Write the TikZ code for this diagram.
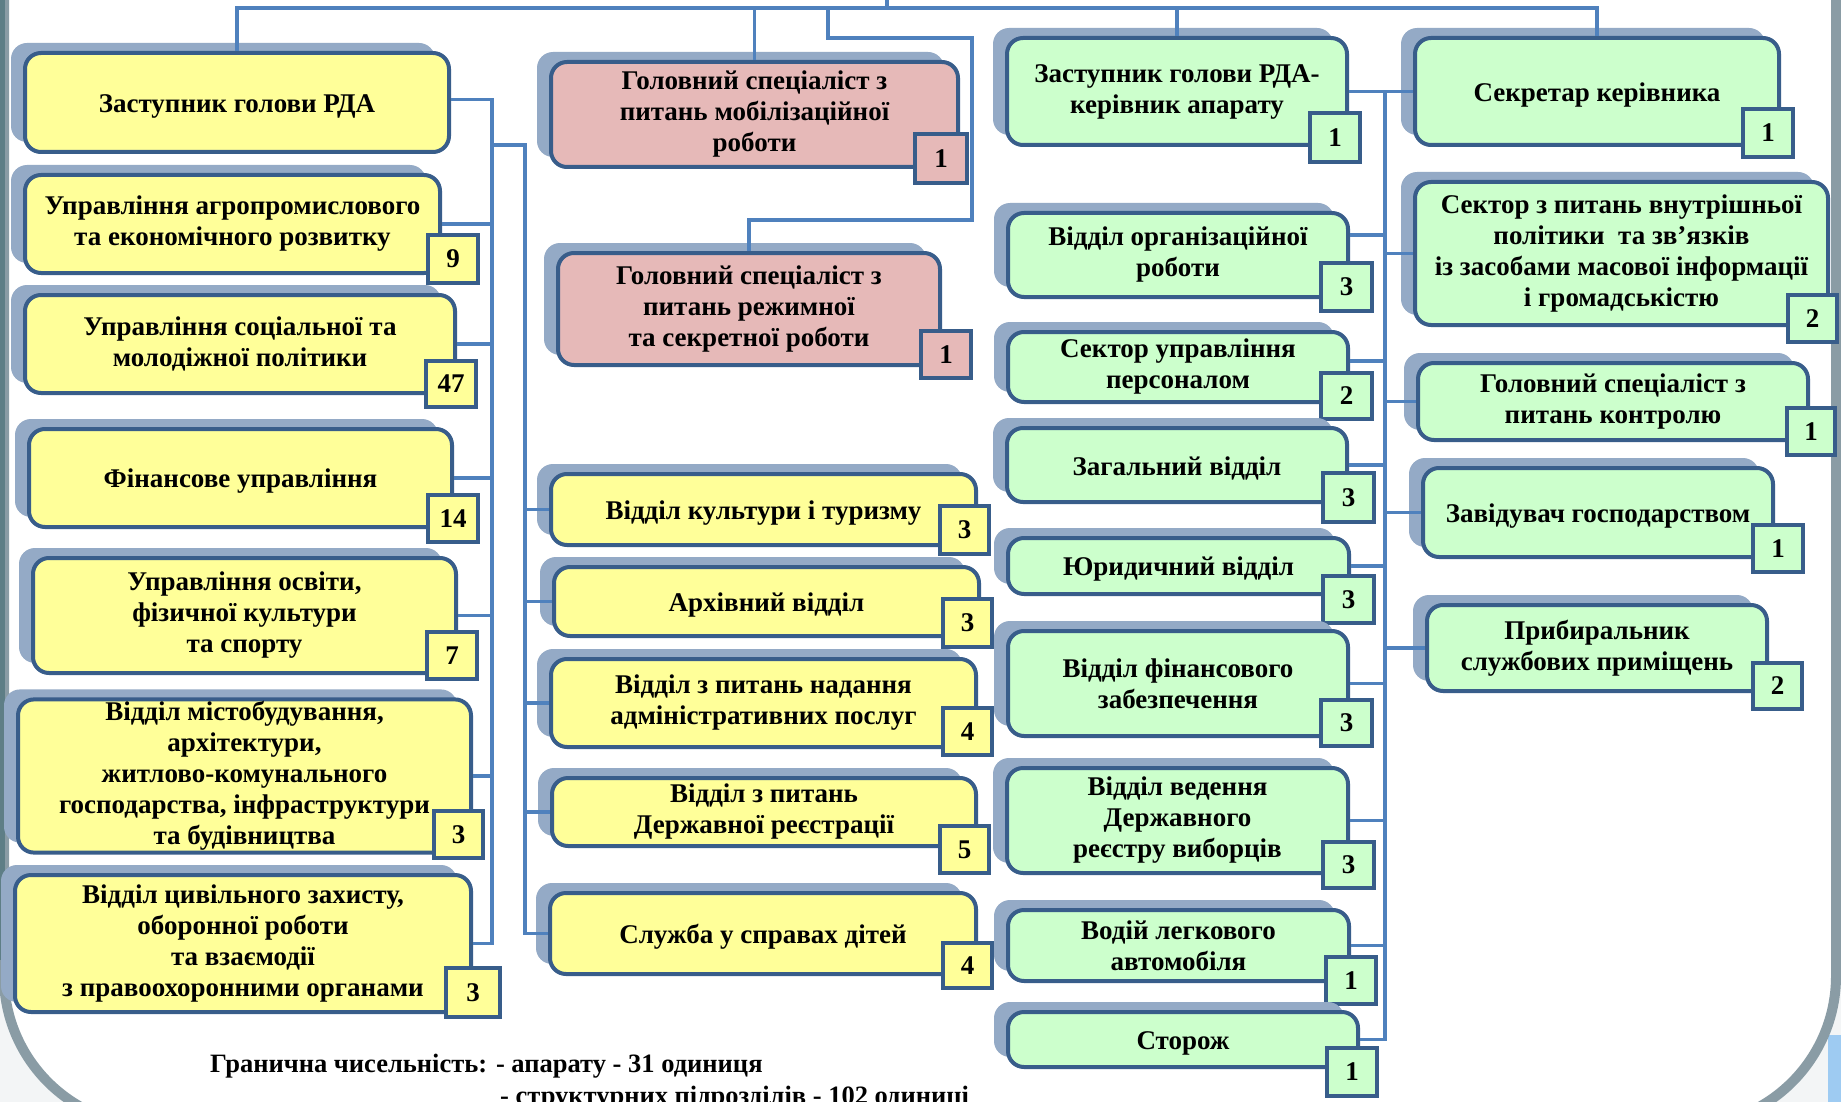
\documentclass[tikz,border=0pt]{standalone}
\usepackage{fontspec}
\setmainfont{Liberation Serif}
\usetikzlibrary{shadows}

\definecolor{yel}{HTML}{FFFF99}
\definecolor{pnk}{HTML}{E6B9B8}
\definecolor{grn}{HTML}{CCFFCC}
\definecolor{bord}{HTML}{385D8A}
\definecolor{lnc}{HTML}{4F81BD}
\definecolor{shc}{HTML}{94AAC6}
\definecolor{panelb}{HTML}{8A9CA5}
\definecolor{panelleft}{HTML}{5E7E86}
\definecolor{bgblue}{HTML}{9ECBF2}
\definecolor{bgpale}{HTML}{F3F5F6}

\tikzset{
  unit/.style={draw=bord, line width=4pt, rounded corners=16pt, align=center,
    font=\bfseries\fontsize{27}{31}\selectfont, inner sep=2pt,
    execute at begin node={\rule{0pt}{25pt}},
    general shadow={fill=shc, shadow xshift=-14pt, shadow yshift=10pt}},
  badgebox/.style={draw=bord, line width=4.5pt, inner sep=0pt,
    font=\bfseries\fontsize{27}{31}\selectfont},
  conn/.style={draw=lnc, line width=3.5pt},
  foottext/.style={font=\bfseries\fontsize{26.5}{29}\selectfont, inner sep=0pt}
}

\newcommand\orgunit[7]{\node[unit,fill=#2,minimum width={#5-#3},minimum height={#6-#4}] (#1) at ({(#3+#5)/2},{(#4+#6)/2}) {#7};}
\newcommand\orgbadge[7]{\node[badgebox,fill=#2,minimum width={#5-#3},minimum height={#6-#4}] (#1) at ({(#3+#5)/2},{(#4+#6)/2}) {#7};}

\begin{document}
\begin{tikzpicture}[x=1pt,y=-1pt]
\useasboundingbox (0,0) rectangle (1841,1102);
% background panel
\fill[bgpale] (0,0) rectangle (1841,1102);
\fill[bgblue] (1828,1035) rectangle (1841,1102);
\draw[line width=10pt, draw=panelb, fill=white, rounded corners=150pt] (4,-300) rectangle (1836,1126);
\draw[line width=6pt, draw=panelleft] (2,-10) -- (2,960);

% left column
\orgunit{z1}{yel}{25}{53}{449}{152}{Заступник голови РДА}
\orgunit{z2}{yel}{25}{175}{440}{273}{Управління агропромислового\\та економічного розвитку}
\orgbadge{z2n}{yel}{428}{235}{478}{283}{9}
\orgunit{z3}{yel}{25}{295}{455}{393}{Управління соціальної та\\молодіжної політики}
\orgbadge{z3n}{yel}{426}{361}{476}{407}{47}
\orgunit{z4}{yel}{29}{429}{452}{527}{Фінансове управління}
\orgbadge{z4n}{yel}{428}{495}{478}{542}{14}
\orgunit{z5}{yel}{33}{558}{456}{673}{Управління освіти,\\фізичної культури\\та спорту}
\orgbadge{z5n}{yel}{427}{632}{477}{679}{7}
\orgunit{z6}{yel}{18}{700}{471}{852}{\fontsize{27}{29.5}\selectfont Відділ містобудування,\\архітектури,\\житлово-комунального\\господарства, інфраструктури\\та будівництва}
\orgbadge{z6n}{yel}{434}{811}{483}{858}{3}
\orgunit{z7}{yel}{15}{875}{471}{1012}{\fontsize{27}{29.5}\selectfont Відділ цивільного захисту,\\оборонної роботи\\та взаємодії\\з правоохоронними органами}
\orgbadge{z7n}{yel}{446}{968}{500}{1017}{3}

% middle column
\orgunit{p1}{pnk}{551}{62}{958}{167}{Головний спеціаліст з\\питань мобілізаційної\\роботи}
\orgbadge{p1n}{pnk}{915}{134}{967}{183}{1}
\orgunit{p2}{pnk}{558}{253}{940}{365}{Головний спеціаліст з\\питань режимної\\та секретної роботи}
\orgbadge{p2n}{pnk}{921}{331}{971}{378}{1}
\orgunit{m1}{yel}{551}{474}{976}{545}{Відділ культури і туризму}
\orgbadge{m1n}{yel}{940}{506}{989}{554}{3}
\orgunit{m2}{yel}{554}{567}{979}{636}{Архівний відділ}
\orgbadge{m2n}{yel}{943}{599}{992}{647}{3}
\orgunit{m3}{yel}{551}{659}{976}{747}{Відділ з питань надання\\адміністративних послуг}
\orgbadge{m3n}{yel}{943}{708}{992}{755}{4}
\orgunit{m4}{yel}{552}{778}{976}{846}{Відділ з питань\\Державної реєстрації}
\orgbadge{m4n}{yel}{940}{826}{989}{873}{5}
\orgunit{m5}{yel}{550}{893}{976}{974}{Служба у справах дітей}
\orgbadge{m5n}{yel}{943}{943}{992}{988}{4}

% green column 1
\orgunit{g1}{grn}{1007}{38}{1347}{145}{Заступник голови РДА-\\керівник апарату}
\orgbadge{g1n}{grn}{1310}{113}{1360}{162}{1}
\orgunit{g2}{grn}{1008}{213}{1348}{297}{Відділ організаційної\\роботи}
\orgbadge{g2n}{grn}{1321}{263}{1372}{311}{3}
\orgunit{g3}{grn}{1008}{332}{1348}{402}{Сектор управління\\персоналом}
\orgbadge{g3n}{grn}{1321}{373}{1372}{419}{2}
\orgunit{g4}{grn}{1007}{428}{1347}{502}{Загальний відділ}
\orgbadge{g4n}{grn}{1323}{473}{1374}{522}{3}
\orgunit{g5}{grn}{1008}{538}{1349}{594}{Юридичний відділ}
\orgbadge{g5n}{grn}{1323}{576}{1374}{623}{3}
\orgunit{g6}{grn}{1008}{631}{1348}{736}{Відділ фінансового\\забезпечення}
\orgbadge{g6n}{grn}{1321}{700}{1372}{746}{3}
\orgunit{g7}{grn}{1007}{768}{1348}{873}{Відділ ведення\\Державного\\реєстру виборців}
\orgbadge{g7n}{grn}{1323}{842}{1374}{888}{3}
\orgunit{g8}{grn}{1008}{910}{1349}{981}{Водій легкового\\автомобіля}
\orgbadge{g8n}{grn}{1326}{957}{1376}{1004}{1}
\orgunit{g9}{grn}{1008}{1012}{1358}{1067}{Сторож}
\orgbadge{g9n}{grn}{1327}{1048}{1377}{1096}{1}

% green column 2
\orgunit{r1}{grn}{1415}{38}{1779}{145}{Секретар керівника}
\orgbadge{r1n}{grn}{1743}{109}{1793}{157}{1}
\orgunit{r2}{grn}{1415}{182}{1828}{325}{Сектор з питань внутрішньої\\політики~ та зв’язків\\із засобами масової інформації\\і громадськістю}
\orgbadge{r2n}{grn}{1788}{295}{1837}{342}{2}
\orgunit{r3}{grn}{1418}{363}{1808}{440}{Головний спеціаліст з\\питань контролю}
\orgbadge{r3n}{grn}{1787}{408}{1835}{455}{1}
\orgunit{r4}{grn}{1423}{468}{1773}{557}{Завідувач господарством}
\orgbadge{r4n}{grn}{1753}{525}{1803}{572}{1}
\orgunit{r5}{grn}{1427}{605}{1767}{691}{Прибиральник\\службових приміщень}
\orgbadge{r5n}{grn}{1753}{663}{1802}{709}{2}

% connector coordinates
\coordinate (root) at (887,-10);
\coordinate (topbus) at (887,8);
\coordinate (busL) at (492,0);
\coordinate (busMtop) at (525,145);
\coordinate (busR) at (1385,0);
\coordinate (pA) at (828,38);
\coordinate (pB) at (972,220);
\coordinate (z1c) at ([yshift=3pt]z1.east);
\coordinate (g2c) at ([yshift=20pt]g2.east);
\coordinate (g3c) at ([yshift=6pt]g3.east);

% top bus
\draw[conn] (root) -- (topbus);
\draw[conn] (z1.north) |- (r1.north |- topbus) -- (r1.north);
\draw[conn] (p1.north) -- (p1.north |- topbus);
\draw[conn] (g1.north) -- (g1.north |- topbus);
\draw[conn] (pA |- topbus) -- (pA) -| (pB) -| (p2.north);

% left bus
\draw[conn] (z1c) -| (busL |- z7.east) -- (z7.east);
\foreach \n in {z2,z3,z4,z5,z6}{\draw[conn] (\n.east) -- (\n.east -| busL);}
% middle bus
\draw[conn] (busMtop -| busL) -- (busMtop) |- (m5.west);
\foreach \n in {m1,m2,m3,m4}{\draw[conn] (\n.west) -- (\n.west -| busMtop);}
% right bus
\draw[conn] (g1.east) -- (r1.west);
\draw[conn] (g1.east -| busR) -- (g9.east -| busR) -- (g9.east);
\draw[conn] (g2c) -- (g2c -| busR);
\draw[conn] (g3c) -- (g3c -| busR);
\foreach \n in {g4,g5,g6,g7,g8}{\draw[conn] (\n.east) -- (\n.east -| busR);}
\foreach \n in {r2,r3,r4,r5}{\draw[conn] (\n.west) -- (\n.west -| busR);}

% footer
\node[foottext, anchor=base west] (foot1) at (210,1072) {Гранична чисельність: - апарату - 31 одиниця};
\node[foottext, anchor=base west] (foot2) at (500,1104) {- структурних підрозділів - 102 одиниці};
\end{tikzpicture}
\end{document}
